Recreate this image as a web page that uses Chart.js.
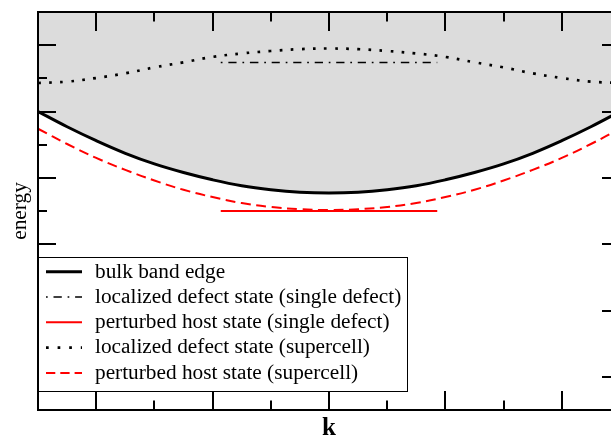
<!DOCTYPE html>
<html>
<head>
<meta charset="utf-8">
<script src="https://cdn.jsdelivr.net/npm/chart.js@4.4.1/dist/chart.umd.min.js"></script>
<style>
  html, body { margin: 0; padding: 0; background: #fff; overflow: hidden; }
  #wrap { width: 624px; height: 435px; }
</style>
</head>
<body>
<div id="wrap"><canvas id="bands" width="624" height="435"></canvas></div>
<script>
// k grid shared by all dispersion curves
const kGrid = [-2.5, -2.25, -2, -1.75, -1.5, -1.25, -1, -0.75, -0.5, -0.25, 0,
               0.25, 0.5, 0.75, 1, 1.25, 1.5, 1.75, 2, 2.25, 2.5];
const bulkEdge = [4.00, 3.77, 3.56, 3.37, 3.21, 3.08, 2.97, 2.88, 2.82, 2.782, 2.77,
                  2.782, 2.82, 2.88, 2.97, 3.08, 3.21, 3.37, 3.56, 3.77, 4.00];
const hostSupercell = [3.74, 3.51, 3.30, 3.12, 2.96, 2.82, 2.71, 2.62, 2.56, 2.527, 2.515,
                       2.527, 2.56, 2.62, 2.71, 2.82, 2.96, 3.12, 3.30, 3.51, 3.74];
const defectSupercell = [4.43, 4.45, 4.505, 4.575, 4.665, 4.742, 4.823, 4.875, 4.912, 4.94, 4.95,
                         4.94, 4.912, 4.875, 4.823, 4.742, 4.665, 4.575, 4.505, 4.45, 4.43];

// flat levels of the isolated defect
const kSingle = [-0.93, 0.93];
const defectSingle = [4.74, 4.74];
const hostSingle = [2.50, 2.50];

// tick marks (no labels on either axis)
const xMajor = [-2, -1, 0, 1, 2];
const xMinor = [-1.5, -0.5, 0.5, 1.5];
const yMajor = [0, 1, 2, 3, 4, 5];
const yMinor = [0.5, 1.5, 2.5, 3.5, 4.5];

const SERIF = '"Liberation Serif", "Times New Roman", serif';

const pts = (xs, ys) => xs.map((x, i) => ({ x: x, y: ys[i] }));

// Frame with inward ticks on all four sides
const frame = {
    id: 'frame',
    afterDatasetsDraw(chart) {
        const { ctx, chartArea: a, scales } = chart;
        const x = scales.x, y = scales.y;
        ctx.save();
        ctx.strokeStyle = '#000';
        ctx.lineWidth = 2;
        ctx.beginPath();
        const xt = (vals, len) => vals.forEach(v => {
            const px = Math.round(x.getPixelForValue(v));
            ctx.moveTo(px, a.bottom); ctx.lineTo(px, a.bottom - len);
            ctx.moveTo(px, a.top); ctx.lineTo(px, a.top + len);
        });
        const yt = (vals, len) => vals.forEach(v => {
            const py = Math.round(y.getPixelForValue(v));
            ctx.moveTo(a.left, py); ctx.lineTo(a.left + len, py);
            ctx.moveTo(a.right, py); ctx.lineTo(a.right - len, py);
        });
        xt(xMajor, 19); xt(xMinor, 9.5);
        yt(yMajor, 18); yt(yMinor, 9);
        ctx.stroke();
        ctx.strokeRect(a.left, a.top, a.width, a.height);
        ctx.restore();
    }
};

// Boxed legend in the lower left corner of the plot
const boxLegend = {
    id: 'boxLegend',
    afterDraw(chart) {
        const { ctx, chartArea: a } = chart;
        const left = a.left, right = 407, bottom = a.bottom - 19, top = 257;
        ctx.save();
        ctx.fillStyle = '#fff';
        ctx.fillRect(left, top, right - left, bottom - top);
        ctx.strokeStyle = '#000';
        ctx.lineWidth = 1;
        ctx.strokeRect(left + 0.5, top + 0.5, right - left, bottom - top);
        // redraw the left axis line over the box edge
        ctx.lineWidth = 2;
        ctx.beginPath(); ctx.moveTo(a.left, top); ctx.lineTo(a.left, bottom + 1); ctx.stroke();

        ctx.font = '21.3px ' + SERIF;
        ctx.textBaseline = 'alphabetic';
        chart.data.datasets.forEach((ds, i) => {
            const ry = top + 14.7 + i * 25.3;
            ctx.strokeStyle = ds.borderColor;
            ctx.lineWidth = ds.borderWidth;
            ctx.setLineDash(ds.legendDash || ds.borderDash || []);
            ctx.beginPath();
            ctx.moveTo(46, ry); ctx.lineTo(82, ry);
            ctx.stroke();
            ctx.setLineDash([]);
            ctx.fillStyle = '#000';
            ctx.fillText(ds.label, 95, ry + 5.8);
        });
        ctx.restore();
    }
};

const lineDefaults = { pointRadius: 0, borderCapStyle: 'butt', tension: 0.4 };

new Chart(document.getElementById('bands'), {
    type: 'line',
    data: {
        datasets: [
            {
                ...lineDefaults,
                label: 'bulk band edge',
                data: pts(kGrid, bulkEdge),
                borderColor: '#000',
                borderWidth: 3,
                fill: 'end',
                backgroundColor: '#dcdcdc'
            },
            {
                ...lineDefaults,
                label: 'localized defect state (single defect)',
                data: pts(kSingle, defectSingle),
                borderColor: '#000',
                borderWidth: 1.5,
                borderDash: [1.7, 5.8, 8.3, 5.8],
                legendDash: [1.7, 5.8, 8.3, 5.8]
            },
            {
                ...lineDefaults,
                label: 'perturbed host state (single defect)',
                data: pts(kSingle, hostSingle),
                borderColor: '#ff0000',
                borderWidth: 2
            },
            {
                ...lineDefaults,
                label: 'localized defect state (supercell)',
                data: pts(kGrid, defectSupercell),
                borderColor: '#000',
                borderWidth: 2.7,
                borderDash: [2.7, 8.4],
                legendDash: [2.7, 8.9]
            },
            {
                ...lineDefaults,
                label: 'perturbed host state (supercell)',
                data: pts(kGrid, hostSupercell),
                borderColor: '#ff0000',
                borderWidth: 2,
                borderDash: [10, 5.5],
                legendDash: [9.3, 5]
            }
        ]
    },
    options: {
        responsive: false,
        animation: false,
        events: [],
        layout: { padding: { top: 12, right: 4, left: 0, bottom: 0 } },
        scales: {
            x: {
                type: 'linear',
                min: -2.5,
                max: 2.5,
                grid: { display: false },
                border: { display: false },
                ticks: { display: false },
                title: {
                    display: true,
                    text: 'k',
                    color: '#000',
                    font: { family: SERIF, size: 25, weight: 'bold', lineHeight: 0.5 },
                    padding: 0
                },
                afterFit(scale) { scale.height = 25; }
            },
            y: {
                type: 'linear',
                min: -0.5,
                max: 5.5,
                grid: { display: false },
                border: { display: false },
                ticks: { display: false },
                title: {
                    display: true,
                    text: 'energy',
                    color: '#000',
                    font: { family: SERIF, size: 21.3 },
                    padding: { top: 8, bottom: 0 }
                },
                afterFit(scale) { scale.width = 38; }
            }
        },
        plugins: {
            legend: { display: false },
            tooltip: { enabled: false },
            filler: { drawTime: 'beforeDatasetsDraw' }
        }
    },
    plugins: [frame, boxLegend]
});
</script>
</body>
</html>
